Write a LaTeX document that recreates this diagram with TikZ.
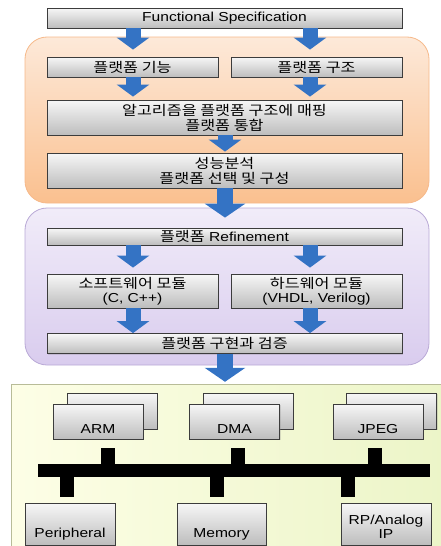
\documentclass[tikz,border=0pt]{standalone}
\usepackage{fontspec}
\setmainfont{Liberation Sans}[FakeStretch=1.2]
\newfontfamily\kr{Noto Sans CJK KR}[FakeStretch=1.2]
\usetikzlibrary{arrows.meta,shadows,calc}
\definecolor{orfill1}{HTML}{FDE9D9}
\definecolor{orfill2}{HTML}{FAC08F}
\definecolor{ordraw}{HTML}{F6B98A}
\definecolor{pufill1}{HTML}{F1ECF9}
\definecolor{pufill2}{HTML}{D9CCEE}
\definecolor{pudraw}{HTML}{B9A9D6}
\definecolor{grfill1}{HTML}{FDFEE6}
\definecolor{grfill2}{HTML}{ECF5C8}
\definecolor{grdraw}{HTML}{B8BC98}
\definecolor{boxtop}{HTML}{F7F7F7}
\definecolor{boxbot}{HTML}{BDBDBD}
\definecolor{boxdraw}{HTML}{3C3C3C}
\definecolor{ablue}{HTML}{3473C4}
\tikzset{
  box/.style={draw=boxdraw, line width=0.8pt, top color=boxtop, bottom color=boxbot,
    inner sep=0pt, align=center, font=\fontsize{13}{14}\selectfont,
    drop shadow={shadow xshift=1.2pt, shadow yshift=-1.2pt, opacity=0.25}},
  krfont/.style={font=\fontsize{13.5}{15}\kr},
  region/.style={line width=0.8pt, rounded corners=22pt},
  barrow/.style={draw=ablue, line width=15pt, -{Triangle[width=32pt,length=12pt]}},
  bigarrow/.style={draw=ablue, line width=16pt, -{Triangle[width=40pt,length=14pt]}},
  stub/.style={draw=black, line width=14pt},
  lbl/.style={inner sep=0pt, align=center, font=\fontsize{13}{14}\selectfont},
}
\begin{document}
\begin{tikzpicture}[x=1pt,y=-1pt]
\useasboundingbox (0,0) rectangle (441,546);
% regions
\node[region, draw=ordraw, top color=orfill1, bottom color=orfill2,
  minimum width=404pt, minimum height=166pt, inner sep=0pt] (orreg) at (227,120) {};
\node[region, draw=pudraw, top color=pufill1, bottom color=pufill2,
  minimum width=404pt, minimum height=157pt, inner sep=0pt] (pureg) at (227,286.5) {};
\node[left color=grfill1, right color=grfill2, minimum width=432pt, minimum height=164pt,
  inner sep=0pt] (soc) at (228,467) {};
\draw[grdraw, line width=0.8pt] (soc.south west) -- (soc.north west) -- (soc.north east);

% coordinates for arrow columns
\coordinate (xl) at (133,0);
\coordinate (xr) at (310,0);
\coordinate (xc) at (225,0);

% boxes
\node[box, minimum width=355pt, minimum height=20pt] (fs) at (224.5,18) {Functional Specification};
\node[box, krfont, minimum width=171pt, minimum height=20pt] (func) at (132.5,67) {플랫폼 기능};
\node[box, krfont, minimum width=171pt, minimum height=20pt] (arch) at (316.5,67) {플랫폼 구조};
\node[box, krfont, minimum width=355pt, minimum height=35pt] (map) at (224.5,117.5) {알고리즘을 플랫폼 구조에 매핑\\플랫폼 통합};
\node[box, krfont, minimum width=355pt, minimum height=35pt] (perf) at (224.5,170.5) {성능분석\\플랫폼 선택 및 구성};
\node[box, minimum width=355pt, minimum height=17pt] (refine) at (224.5,236.5) {{\fontsize{13.5}{14}\kr 플랫폼} Refinement};
\node[box, minimum width=171pt, minimum height=34pt] (sw) at (132.5,291) {{\fontsize{13.5}{14}\kr 소프트웨어 모듈}\\(C, C++)};
\node[box, minimum width=171pt, minimum height=34pt] (hw) at (316.5,291) {{\fontsize{13.5}{14}\kr 하드웨어 모듈}\\(VHDL, Verilog)};
\node[box, krfont, minimum width=355pt, minimum height=20pt] (impl) at (224.5,343.5) {플랫폼 구현과 검증};

% arrows
\draw[barrow, shorten >=7pt] (fs.south -| xl) -- (func.north -| xl);
\draw[barrow, shorten >=7pt] (fs.south -| xr) -- (arch.north -| xr);
\draw[barrow, shorten >=3pt] (func.south -| xl) -- (map.north -| xl);
\draw[barrow, shorten >=3pt] (arch.south -| xr) -- (map.north -| xr);
\draw[barrow, shorten >=1pt] (map.south -| xc) -- (perf.north -| xc);
\draw[bigarrow, shorten >=10pt] (perf.south -| xc) -- (refine.north -| xc);
\draw[barrow, shorten >=6pt] (refine.south -| xl) -- (sw.north -| xl);
\draw[barrow, shorten >=6pt] (refine.south -| xr) -- (hw.north -| xr);
\draw[barrow] (sw.south -| xl) -- (impl.north -| xl);
\draw[barrow] (hw.south -| xr) -- (impl.north -| xr);
\draw[bigarrow, shorten >=3pt] (impl.south -| xc) -- (soc.north -| xc);

% stacked IP boxes
\node[box, minimum width=90pt, minimum height=36pt] (armb) at (112,411) {};
\node[box, text height=29pt, text depth=6pt, minimum width=90pt] (arm) at (98,421.5) {ARM};
\node[box, minimum width=90pt, minimum height=36pt] (dmab) at (248,411) {};
\node[box, text height=29pt, text depth=6pt, minimum width=90pt] (dma) at (234.5,421.5) {DMA};
\node[box, minimum width=90pt, minimum height=36pt] (jpegb) at (391.5,411) {};
\node[box, text height=29pt, text depth=6pt, minimum width=90pt] (jpeg) at (378,421.5) {JPEG};

% bus
\node[fill=black, minimum width=392pt, minimum height=13pt, inner sep=0pt] (bus) at (234,470.5) {};
\coordinate (sa) at (108,0);
\coordinate (sd) at (237.5,0);
\coordinate (sj) at (374.5,0);
\coordinate (sp) at (67,0);
\coordinate (sm) at (217,0);
\coordinate (sr) at (348,0);

% bottom boxes
\node[box, text height=34pt, text depth=8pt, minimum width=90pt] (per) at (70,524) {Peripheral};
\node[box, text height=34pt, text depth=8pt, minimum width=89pt] (mem) at (221.5,524) {Memory};
\node[box, minimum width=90pt, minimum height=42pt] (rp) at (386,524) {};
\node[lbl] (rpt) at (386,526.5) {RP/Analog\\IP};

% stubs
\draw[stub, shorten <=9pt] (arm.south -| sa) -- (bus.north -| sa);
\draw[stub, shorten <=9pt] (dma.south -| sd) -- (bus.north -| sd);
\draw[stub, shorten <=9pt] (jpeg.south -| sj) -- (bus.north -| sj);
\draw[stub, shorten >=6pt] (bus.south -| sp) -- (per.north -| sp);
\draw[stub, shorten >=6pt] (bus.south -| sm) -- (mem.north -| sm);
\draw[stub, shorten >=6pt] (bus.south -| sr) -- (rp.north -| sr);
\end{tikzpicture}
\end{document}
